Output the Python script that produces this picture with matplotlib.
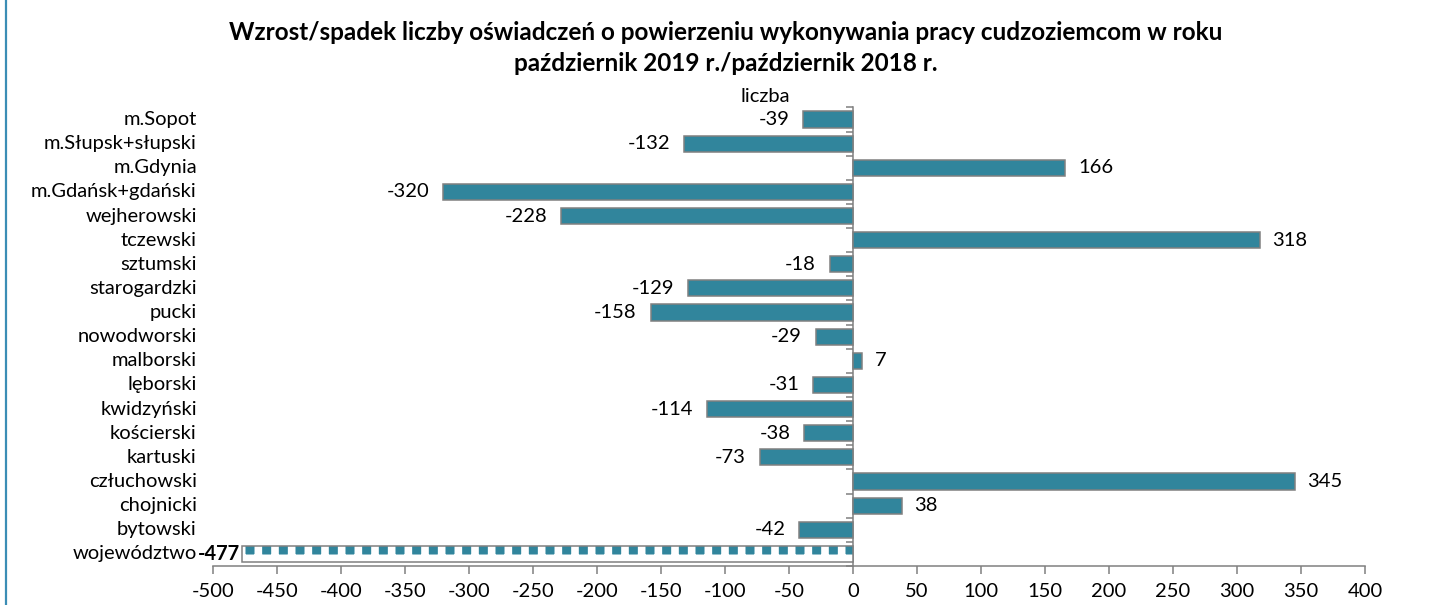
import matplotlib.pyplot as plt
from matplotlib.lines import Line2D

# ---------------------------------
# Data
# ---------------------------------
categories = [
    "m.Sopot", "m.Słupsk+słupski", "m.Gdynia", "m.Gdańsk+gdański",
    "wejherowski", "tczewski", "sztumski", "starogardzki", "pucki",
    "nowodworski", "malborski", "lęborski", "kwidzyński", "kościerski",
    "kartuski", "człuchowski", "chojnicki", "bytowski", "województwo",
]
values = [-39, -132, 166, -320, -228, 318, -18, -129, -158,
          -29, 7, -31, -114, -38, -73, 345, 38, -42, -477]
x_ticks = list(range(-500, 401, 50))

title = ("Wzrost/spadek liczby oświadczeń o powierzeniu wykonywania pracy cudzoziemcom w roku\n"
         "październik 2019 r./październik 2018 r.")

teal = "#31859c"
grey = "#808080"
fs = 14.5

plt.rcParams['font.family'] = ['Lato', 'DejaVu Sans']
plt.rcParams['hatch.linewidth'] = 5.5

fig = plt.figure(figsize=(14.37, 6.05), dpi=100)
ax = fig.add_axes([0.1482, 0.0645, 0.8017, 0.758])

ypos = list(range(len(categories)))
regular = ypos[:-1]
ax.barh(regular, values[:-1], height=0.67, color=teal,
        edgecolor=grey, linewidth=1.1, zorder=3)

# total bar with checker pattern
ax.barh(ypos[-1], values[-1], height=0.67, color=teal, edgecolor="white",
        linewidth=0, hatch="+", zorder=3)
ax.barh(ypos[-1], values[-1], height=0.67, color="none",
        edgecolor=grey, linewidth=1.1, zorder=4)

# data labels
for y, v in zip(ypos, values):
    if y == ypos[-1]:
        ax.annotate(str(v), (v, y), xytext=(-2, 0), textcoords="offset points",
                    ha="right", va="center", fontsize=fs, fontweight="bold")
    elif v >= 0:
        ax.annotate(str(v), (v, y), xytext=(9, 0), textcoords="offset points",
                    ha="left", va="center", fontsize=fs)
    else:
        ax.annotate(str(v), (v, y), xytext=(-10, 0), textcoords="offset points",
                    ha="right", va="center", fontsize=fs)

# category labels at low position
for y, name in zip(ypos, categories):
    ax.text(-0.014, y, name, transform=ax.get_yaxis_transform(),
            ha="right", va="center", fontsize=fs)

ax.set_xlim(-500, 400)
ax.set_ylim(len(categories) - 0.5, -0.5)
ax.set_xticks(x_ticks)
ax.set_xticklabels([str(t) for t in x_ticks], fontsize=fs)
ax.tick_params(axis="x", direction="out", length=6, width=1.1, color=grey, pad=6)

ax.spines["left"].set_position(("data", 0))
ax.spines["left"].set_color(grey)
ax.spines["left"].set_linewidth(1.1)
ax.spines["bottom"].set_color(grey)
ax.spines["bottom"].set_linewidth(1.1)
ax.spines["top"].set_visible(False)
ax.spines["right"].set_visible(False)

ax.set_yticks([])
ax.set_yticks([y - 0.5 for y in ypos] + [len(categories) - 0.5], minor=True)
ax.tick_params(axis="y", which="minor", direction="out", length=5, width=1.1,
               color=grey, labelleft=False)

ax.annotate("liczba", (0, -0.5), xytext=(-45, 2), textcoords="offset points",
            ha="right", va="bottom", fontsize=fs)

fig.text(0.505, 0.966, title, ha="center", va="top", fontsize=17.5,
         fontweight="bold", linespacing=1.45)

# left border line of the chart area
fig.add_artist(Line2D([0.004, 0.004], [0, 1], color="#3b8db5", linewidth=1.6,
                      transform=fig.transFigure))

fig.savefig("out.png", dpi=100)
